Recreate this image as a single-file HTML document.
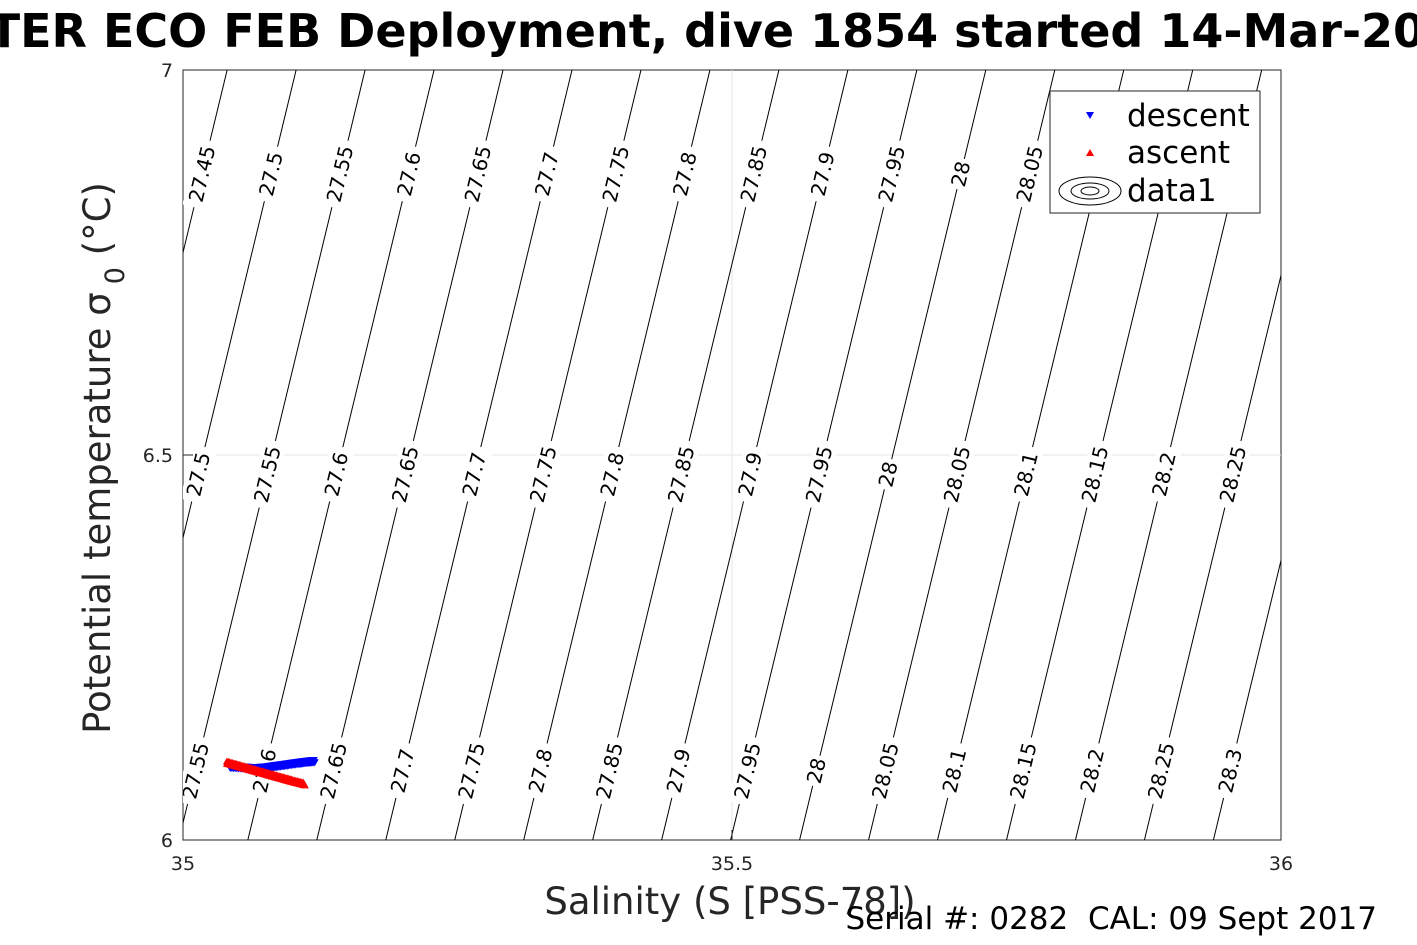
<!DOCTYPE html>
<html><head><meta charset="utf-8"><style>
html,body{margin:0;padding:0;background:#fff;}
svg{display:block;font-family:"DejaVu Sans","Liberation Sans",sans-serif;}
</style></head><body>
<svg id="chart" width="1417" height="945" viewBox="0 0 1417 945" xmlns="http://www.w3.org/2000/svg">
<rect width="1417" height="945" fill="#fff"/>
<text x="-92" y="47" font-size="46" font-weight="bold" fill="#000">WATER ECO FEB Deployment, dive 1854 started 14-Mar-2018</text>
<rect x="183" y="70" width="1098" height="770" fill="#fff" stroke="#262626" stroke-width="1"/>
<g id="grid"></g>
<g id="contours"></g>
<g id="series"></g>
<g id="axes"></g>
<text x="730" y="914" font-size="37" text-anchor="middle" fill="#262626">Salinity (S [PSS-78])</text>
<text transform="translate(110,458) rotate(-90)" font-size="37" text-anchor="middle" fill="#262626">Potential temperature σ<tspan font-size="27" dy="14" dx="8">0</tspan><tspan dy="-14"> (°C)</tspan></text>
<text x="1377" y="929" font-size="31" text-anchor="end" fill="#000">Serial #: 0282&#160;&#160;CAL: 09 Sept 2017</text>
<g>
<rect x="1050" y="91" width="210" height="122" fill="#fff" stroke="#262626" stroke-width="1"/>
<polygon points="1086,112 1094,112 1090,119" fill="#0000ff"/>
<text x="1127" y="126" font-size="31" fill="#000">descent</text>
<polygon points="1086,156 1094,156 1090,149" fill="#ff0000"/>
<text x="1127" y="163" font-size="31" fill="#000">ascent</text>
<ellipse cx="1090" cy="191" rx="31" ry="14" fill="none" stroke="#000"/>
<ellipse cx="1090" cy="191" rx="19" ry="8" fill="none" stroke="#000"/>
<ellipse cx="1090" cy="191" rx="9" ry="4" fill="none" stroke="#000"/>
<text x="1127" y="201" font-size="31" fill="#000">data1</text>
</g>
</svg>
<script>
const xTicks = [35, 35.5, 36];
const yTicks = [6, 6.5, 7];
const levels = [27.35,27.4,27.45,27.5,27.55,27.6,27.65,27.7,27.75,27.8,27.85,27.9,27.95,28,28.05,28.1,28.15,28.2,28.25,28.3,28.35,28.4];
const labelRowTemps = [6.865, 6.475, 6.09];
const descentS = [35.043,35.055,35.065,35.075,35.085,35.095,35.105,35.113,35.120];
const descentT = [6.0935,6.0925,6.0915,6.0925,6.0945,6.0965,6.0985,6.1,6.101];
const ascentS = [35.040,35.050,35.060,35.070,35.080,35.090,35.100,35.111];
const ascentT = [6.099,6.095,6.091,6.087,6.083,6.079,6.075,6.071];

const NS="http://www.w3.org/2000/svg";
const X0=183,X1=1281,Y0=840,Y1=70;
const xs=s=>X0+(s-35)/(36-35)*(X1-X0);
const ys=t=>Y0-(t-6)/(7-6)*(Y0-Y1);
const B=0.796, C=0.135, SIG0=27.553;
const sAt=(lev,t)=>35+(lev-SIG0+C*(t-6))/B;
function mk(tag,attrs,parent){const e=document.createElementNS(NS,tag);for(const k in attrs)e.setAttribute(k,attrs[k]);parent.appendChild(e);return e;}

const grid=document.getElementById('grid');
xTicks.slice(1,-1).forEach(v=>{const l=mk('line',{x1:xs(v),x2:xs(v),y1:Y1,y2:Y0,stroke:'#e6e6e6'},grid);

});
yTicks.slice(1,-1).forEach(v=>{const l=mk('line',{x1:X0,x2:X1,y1:ys(v),y2:ys(v),stroke:'#e6e6e6'},grid);

});

const cg=document.getElementById('contours');
const clip=mk('clipPath',{id:'pc'},document.getElementById('chart'));
mk('rect',{x:X0,y:Y1,width:X1-X0,height:Y0-Y1},clip);
cg.setAttribute('clip-path','url(#pc)');
const ang=-Math.atan2(ys(7)-ys(6), xs(sAt(27.6,7))-xs(sAt(27.6,6)))*180/Math.PI;
levels.forEach(lev=>{
  const l=mk('line',{x1:xs(sAt(lev,6)),y1:ys(6),x2:xs(sAt(lev,7)),y2:ys(7),stroke:'#000','stroke-width':1},cg);
  
  
  labelRowTemps.forEach(t=>{
    const px=xs(sAt(lev,t)),py=ys(t);
    if(px<X0+8||px>X1-10)return;
    const g=mk('g',{transform:`translate(${px},${py}) rotate(${-ang})`},cg);
    
    
    const txt=String(lev);
    const w=txt.length*12.5+6;
    mk('rect',{x:-w/2,y:-12,width:w,height:24,fill:'#fff'},g);
    const te=mk('text',{x:0,y:7,'font-size':20,'text-anchor':'middle',fill:'#000'},g);
    te.textContent=txt;
  });
});

const sg=document.getElementById('series');
function tri(s,t,up,color,name){
  const x=xs(s),y=ys(t);
  const p=up?`${x-4},${y+3} ${x+4},${y+3} ${x},${y-4}`:`${x-4},${y-3} ${x+4},${y-3} ${x},${y+4}`;
  const e=mk('polygon',{points:p,fill:color},sg);
  
  
}
function dense(S,T,up,color,name){
  for(let i=0;i<S.length-1;i++){for(let k=0;k<8;k++){const f=k/8;
    const s=S[i]+(S[i+1]-S[i])*f, t=T[i]+(T[i+1]-T[i])*f;
    tri(s,t,up,color,name); tri(s,t+0.003,up,color,name);}}
  tri(S[S.length-1],T[T.length-1],up,color,name);
}
dense(descentS,descentT,false,'#0000ff','descent-point');
dense(ascentS,ascentT,true,'#ff0000','ascent-point');

const ag=document.getElementById('axes');
xTicks.forEach(v=>{mk('line',{x1:xs(v),x2:xs(v),y1:Y0,y2:Y0-10,stroke:'#262626'},ag);
 const t=mk('text',{x:xs(v),y:Y0+30,'font-size':19,'text-anchor':'middle',fill:'#262626'},ag);t.textContent=String(v);
 
 });
yTicks.forEach(v=>{mk('line',{x1:X0,x2:X0+10,y1:ys(v),y2:ys(v),stroke:'#262626'},ag);
 const t=mk('text',{x:X0-10,y:ys(v)+7,'font-size':19,'text-anchor':'end',fill:'#262626'},ag);t.textContent=String(v);
 
 });
</script>
</body></html>
